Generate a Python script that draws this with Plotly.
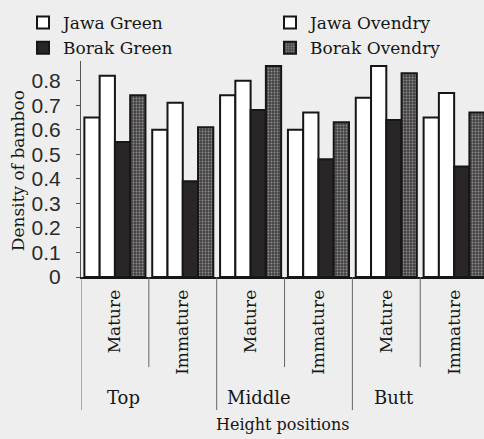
import plotly.graph_objects as go

groups = ["Top", "Middle", "Butt"]
maturity = ["Mature", "Immature"]
categories = [f"{g} {m}" for g in groups for m in maturity]
cat_labels = [m for g in groups for m in maturity]

jawa_green = [0.65, 0.60, 0.74, 0.60, 0.73, 0.65]
jawa_ovendry = [0.82, 0.71, 0.80, 0.67, 0.86, 0.75]
borak_green = [0.55, 0.39, 0.68, 0.48, 0.64, 0.45]
borak_ovendry = [0.74, 0.61, 0.86, 0.63, 0.83, 0.67]

y_ticks = [0, 0.1, 0.2, 0.3, 0.4, 0.5, 0.6, 0.7, 0.8]

xpos = list(range(len(categories)))
serif = "DejaVu Serif, serif"
sans = "Liberation Sans, Arial, sans-serif"
ink = "#161616"
bg = "#eeeeee"

fig = go.Figure()
fig.add_bar(x=xpos, y=jawa_green, name="Jawa Green", legend="legend",
            marker=dict(color="white", line=dict(color=ink, width=2)))
fig.add_bar(x=xpos, y=jawa_ovendry, name="Jawa Ovendry", legend="legend2",
            marker=dict(color="white", line=dict(color=ink, width=2)))
fig.add_bar(x=xpos, y=borak_green, name="Borak Green", legend="legend",
            marker=dict(color="#2a2527", line=dict(color=ink, width=2)))
fig.add_bar(x=xpos, y=borak_ovendry, name="Borak Ovendry", legend="legend2",
            marker=dict(color="#4a4748", line=dict(color=ink, width=2),
                        pattern=dict(shape=".", fgcolor="#8e8e8e", bgcolor="#464344",
                                     size=3, solidity=0.3)))

shapes = []
for i in range(len(categories)):
    b = i - 0.5
    long = (i % 2 == 0)
    shapes.append(dict(type="line", xref="x", yref="paper", x0=b, x1=b,
                       y0=0, y1=-0.616 if long else -0.417,
                       line=dict(color="#666666", width=1)))
shapes.append(dict(type="line", xref="x", yref="paper", x0=len(categories) - 0.5,
                   x1=len(categories) - 0.5, y0=0, y1=-0.417,
                   line=dict(color="#666666", width=1)))

annotations = []
for gi, g in enumerate(groups):
    annotations.append(dict(text=g, x=2 * gi + 0.12, y=-0.56, xref="x", yref="paper",
                            showarrow=False, xanchor="center", yanchor="middle",
                            font=dict(family=serif, size=18, color=ink)))
annotations.append(dict(text="Height positions", x=0.5, y=-0.685, xref="paper", yref="paper",
                        showarrow=False, xanchor="center", yanchor="middle",
                        font=dict(family=serif, size=16, color=ink)))
annotations.append(dict(text="Density of bamboo", x=0, xshift=-63, y=0.49,
                        xref="paper", yref="paper", textangle=-90,
                        showarrow=False, xanchor="center", yanchor="middle",
                        font=dict(family=serif, size=17, color=ink)))

legend_common = dict(orientation="v", yanchor="top", xanchor="left",
                     font=dict(family=serif, size=17, color=ink),
                     bgcolor="rgba(0,0,0,0)", traceorder="normal")

fig.update_layout(
    template="none",
    width=484, height=439,
    margin=dict(l=81, r=0, t=61, b=162, autoexpand=False),
    paper_bgcolor=bg, plot_bgcolor=bg,
    barmode="group", bargap=0.1, bargroupgap=0,
    showlegend=True,
    legend=dict(x=(23 - 81) / 403, y=1 + (61 - 5) / 216, **legend_common),
    legend2=dict(x=(270 - 81) / 403, y=1 + (61 - 5) / 216, **legend_common),
    xaxis=dict(range=[-0.5, 5.44], tickmode="array", tickvals=xpos, ticktext=cat_labels,
               tickangle=-90, tickfont=dict(family=serif, size=17, color=ink),
               showgrid=False, zeroline=False, showline=True, linecolor=ink, linewidth=2,
               ticks="", ticklabelstandoff=4, automargin=False),
    yaxis=dict(range=[0, 0.88], tickmode="array", tickvals=y_ticks,
               ticktext=[f"{v:g}" for v in y_ticks],
               tickfont=dict(family=sans, size=21, color="#2a2a2a"),
               showgrid=False, zeroline=False, showline=True, linecolor="#555555", linewidth=1,
               ticks="outside", ticklen=4, tickcolor="#555555", ticklabelstandoff=11,
               automargin=False),
    shapes=shapes, annotations=annotations,
)

fig.write_html("out.html", config={"displayModeBar": False},
               post_script="document.body.style.margin='0';document.body.style.overflow='hidden';")
